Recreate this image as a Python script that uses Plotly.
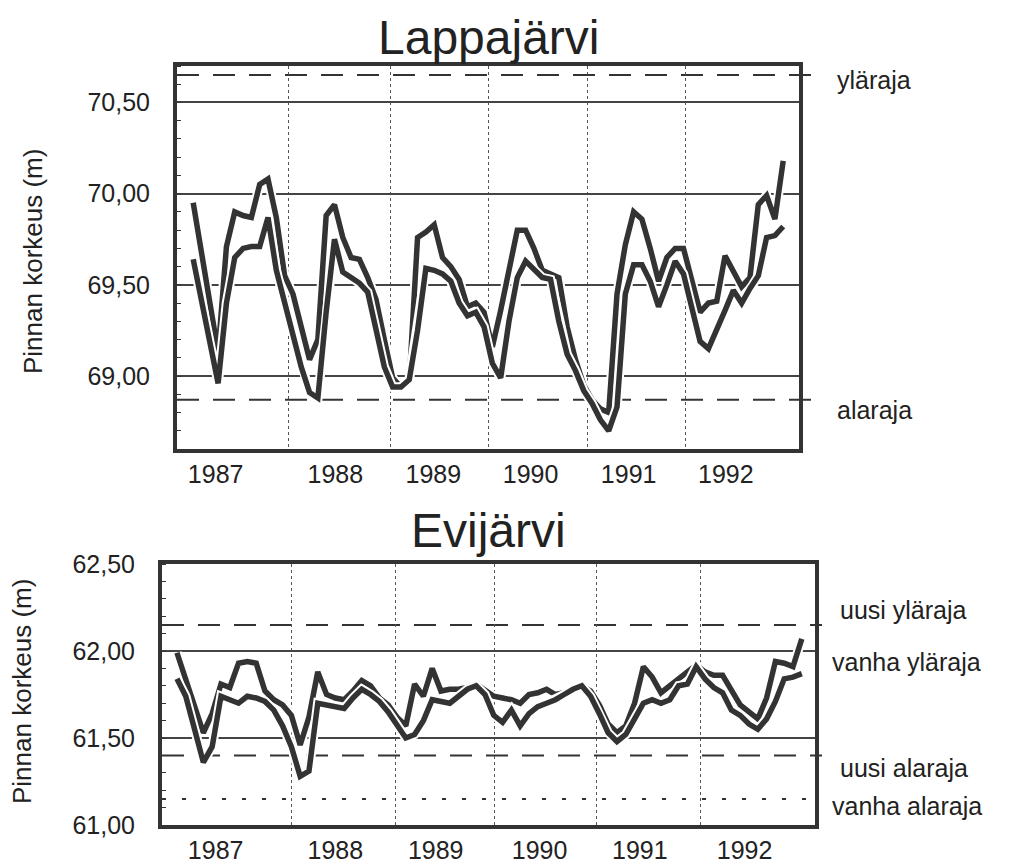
import plotly.graph_objects as go

# ---------------- data ----------------
years = ["1987", "1988", "1989", "1990", "1991", "1992"]
month_index = list(range(72))  # monthly, Jan 1987 .. Dec 1992

lappa_a = [69.95, 69.67, 69.40, 69.13, 69.71, 69.90, 69.88, 69.87, 70.05, 70.08, 69.87, 69.55,
           69.45, 69.28, 69.09, 69.20, 69.88, 69.94, 69.76, 69.65, 69.64, 69.54, 69.42, 69.20,
           68.99, 68.94, 68.97, 69.76, 69.79, 69.83, 69.65, 69.60, 69.53, 69.38, 69.40, 69.35,
           69.16, 69.36, 69.58, 69.80, 69.80, 69.70, 69.58, 69.56, 69.54, 69.27, 69.09, 68.95,
           68.87, 68.82, 68.80, 69.45, 69.72, 69.90, 69.86, 69.70, 69.52, 69.65, 69.70, 69.70,
           69.52, 69.35, 69.40, 69.41, 69.66, 69.58, 69.49, 69.54, 69.94, 69.99, 69.86, 70.18]
lappa_b = [69.64, 69.40, 69.18, 68.96, 69.40, 69.65, 69.70, 69.71, 69.71, 69.87, 69.58, 69.40,
           69.22, 69.05, 68.91, 68.88, 69.35, 69.75, 69.57, 69.54, 69.51, 69.46, 69.26, 69.05,
           68.94, 68.94, 68.98, 69.25, 69.59, 69.58, 69.56, 69.52, 69.40, 69.33, 69.35, 69.27,
           69.07, 68.99, 69.30, 69.54, 69.63, 69.58, 69.54, 69.53, 69.30, 69.12, 69.03, 68.92,
           68.85, 68.76, 68.70, 68.83, 69.45, 69.61, 69.61, 69.52, 69.38, 69.50, 69.63, 69.56,
           69.38, 69.19, 69.15, 69.25, 69.36, 69.47, 69.40, 69.48, 69.55, 69.76, 69.77, 69.82]

evi_a = [61.99, 61.83, 61.67, 61.53, 61.64, 61.81, 61.79, 61.93, 61.94, 61.93, 61.77, 61.72,
         61.69, 61.63, 61.46, 61.62, 61.88, 61.75, 61.73, 61.72, 61.77, 61.83, 61.80, 61.73,
         61.69, 61.62, 61.57, 61.81, 61.74, 61.90, 61.77, 61.78, 61.78, 61.79, 61.81, 61.77,
         61.74, 61.73, 61.72, 61.70, 61.75, 61.76, 61.78, 61.75, 61.76, 61.79, 61.80, 61.77,
         61.69, 61.58, 61.53, 61.57, 61.70, 61.91, 61.85, 61.76, 61.80, 61.85, 61.89, 61.92,
         61.88, 61.86, 61.86, 61.78, 61.69, 61.65, 61.61, 61.73, 61.94, 61.93, 61.91, 62.07]
evi_b = [61.84, 61.74, 61.55, 61.36, 61.45, 61.74, 61.72, 61.70, 61.74, 61.73, 61.71, 61.66,
         61.57, 61.45, 61.28, 61.31, 61.70, 61.69, 61.68, 61.67, 61.73, 61.78, 61.75, 61.71,
         61.65, 61.57, 61.50, 61.52, 61.60, 61.72, 61.71, 61.70, 61.74, 61.78, 61.80, 61.75,
         61.63, 61.59, 61.66, 61.57, 61.64, 61.68, 61.70, 61.72, 61.75, 61.78, 61.80, 61.74,
         61.64, 61.53, 61.48, 61.52, 61.61, 61.70, 61.72, 61.70, 61.72, 61.80, 61.81, 61.91,
         61.84, 61.79, 61.76, 61.66, 61.63, 61.58, 61.55, 61.61, 61.71, 61.84, 61.85, 61.87]

lappa_ticks = [69.00, 69.50, 70.00, 70.50]
evi_ticks = [61.00, 61.50, 62.00, 62.50]

lappa_limit_names = ["yläraja", "alaraja"]
lappa_limit_values = [70.65, 68.87]
evi_limit_names = ["uusi yläraja", "vanha yläraja", "uusi alaraja", "vanha alaraja"]
evi_limit_values = [62.15, 62.00, 61.40, 61.15]

# ---------------- layout helpers ----------------
W, H = 1016, 865
def px(x):
    return x / W
def py(y):
    return 1 - y / H

DARK = "#333333"
FONT = "Liberation Sans, Arial, sans-serif"

fig = go.Figure()

def add_pair(a, b, xa, ya):
    for series in (a, b):
        fig.add_trace(go.Scatter(x=month_index, y=series, mode="lines", xaxis=xa, yaxis=ya,
                                 line=dict(color="white", width=9.5), hoverinfo="skip",
                                 showlegend=False))
        fig.add_trace(go.Scatter(x=month_index, y=series, mode="lines", xaxis=xa, yaxis=ya,
                                 line=dict(color=DARK, width=5.5), showlegend=False))

add_pair(lappa_a, lappa_b, "x", "y")
add_pair(evi_a, evi_b, "x2", "y2")

fmt = lambda v: f"{v:.2f}".replace(".", ",")

common_x = dict(showline=True, mirror=True, linewidth=4, linecolor=DARK, ticks="",
                showgrid=False, zeroline=False, automargin=False,
                tickfont=dict(family=FONT, size=25, color="#222"))
common_y = dict(showline=True, mirror=True, linewidth=4, linecolor=DARK, ticks="",
                showgrid=True, gridcolor="#444", gridwidth=2, zeroline=False, automargin=False,
                tickfont=dict(family=FONT, size=25, color="#222"), ticklabelstandoff=18)

fig.update_layout(
    width=W, height=H, margin=dict(l=0, r=0, t=0, b=0, autoexpand=False),
    paper_bgcolor="white", plot_bgcolor="white", showlegend=False,
    xaxis=dict(domain=[px(177), px(799)], range=[-1.95, 72.9], anchor="y",
               tickvals=[2.7, 17.1, 28.9, 40.6, 52.4, 64.1], ticktext=years,
               minor=dict(tickvals=[11.5, 23.7, 35.5, 47.5, 59.3], showgrid=True,
                          gridcolor="#555", gridwidth=1, griddash="dot", ticks=""),
               **common_x),
    yaxis=dict(domain=[py(449), py(66)], range=[68.60, 70.70], anchor="x",
               tickvals=lappa_ticks, ticktext=[fmt(v) for v in lappa_ticks],
               minor=dict(dtick=0.1, ticks="inside", ticklen=4, tickcolor=DARK, showgrid=False),
               **common_y),
    xaxis2=dict(domain=[px(162), px(815)], range=[-1.70, 72.5], anchor="y2",
                tickvals=[4.4, 18.0, 29.4, 41.2, 52.6, 64.5], ticktext=years,
                minor=dict(tickvals=[13.0, 24.8, 36.1, 47.7, 59.5], showgrid=True,
                           gridcolor="#555", gridwidth=1, griddash="dot", ticks=""),
                **common_x),
    yaxis2=dict(domain=[py(825), py(564)], range=[61.0, 62.5], anchor="x2",
                tickvals=evi_ticks, ticktext=[fmt(v) for v in evi_ticks],
                minor=dict(dtick=0.1, ticks="inside", ticklen=4, tickcolor=DARK, showgrid=False),
                **common_y),
)

# limit lines
dash_style = "22px,14px"
dot_style = "4px,16px"
lappa_line_ends = [px(818), px(812)]
for val, x1 in zip(lappa_limit_values, lappa_line_ends):
    fig.add_shape(type="line", xref="paper", yref="y", x0=px(177), x1=x1, y0=val, y1=val,
                  line=dict(color=DARK, width=2, dash=dash_style), layer="below")
evi_styles = [dash_style, None, dash_style, dot_style]
for val, st in zip(evi_limit_values, evi_styles):
    if st is None:
        continue
    fig.add_shape(type="line", xref="paper", yref="y2", x0=px(162), x1=px(822), y0=val, y1=val,
                  line=dict(color=DARK, width=2, dash=st), layer="below")

# labels
lab_font = dict(family=FONT, size=25, color="#222")
lappa_label_y = [80, 410]
for name, yy in zip(lappa_limit_names, lappa_label_y):
    fig.add_annotation(text=name, xref="paper", yref="paper", x=px(835), y=py(yy),
                       xanchor="left", yanchor="middle", showarrow=False, font=lab_font)
evi_label_pos = [(838, 610), (830, 662), (838, 768), (830, 806)]
for name, (xx, yy) in zip(evi_limit_names, evi_label_pos):
    fig.add_annotation(text=name, xref="paper", yref="paper", x=px(xx), y=py(yy),
                       xanchor="left", yanchor="middle", showarrow=False, font=lab_font)

title_font = dict(family=FONT, size=48, color="#222")
fig.add_annotation(text="Lappajärvi", xref="paper", yref="paper", x=px(488), y=py(38),
                   xanchor="center", yanchor="middle", showarrow=False, font=title_font)
fig.add_annotation(text="Evijärvi", xref="paper", yref="paper", x=px(488), y=py(530),
                   xanchor="center", yanchor="middle", showarrow=False, font=title_font)

ytitle_font = dict(family=FONT, size=26, color="#222")
fig.add_annotation(text="Pinnan korkeus (m)", xref="paper", yref="paper", x=px(33), y=py(262),
                   textangle=-90, xanchor="center", yanchor="middle", showarrow=False,
                   font=ytitle_font)
fig.add_annotation(text="Pinnan korkeus (m)", xref="paper", yref="paper", x=px(22), y=py(692),
                   textangle=-90, xanchor="center", yanchor="middle", showarrow=False,
                   font=ytitle_font)

fig.write_html("out.html")
